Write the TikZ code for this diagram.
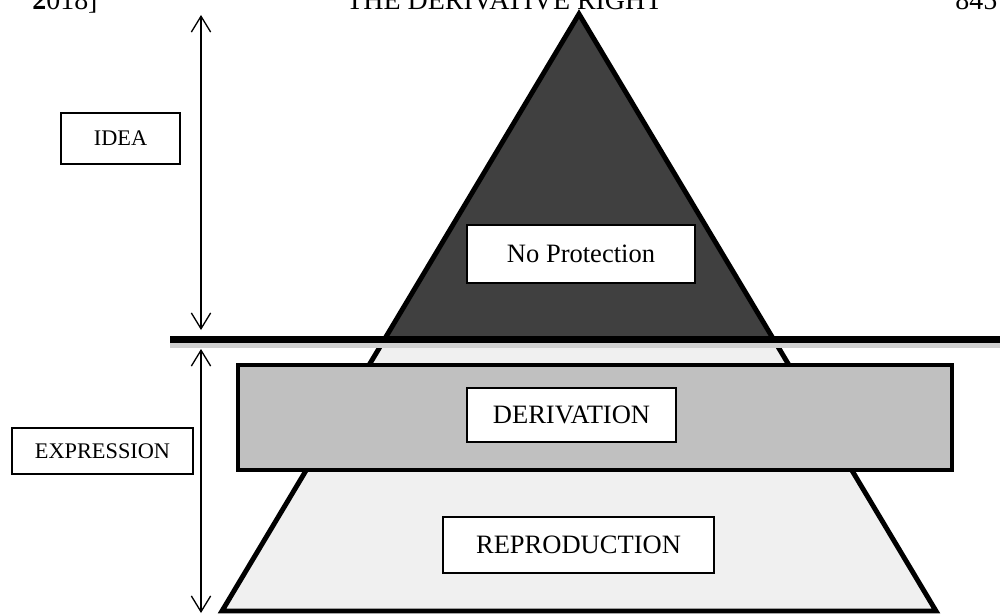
\documentclass[tikz,border=0pt]{standalone}
\usepackage{fontspec}
\setmainfont{Liberation Serif}
\usetikzlibrary{arrows.meta}
\definecolor{darkfill}{HTML}{404040}
\definecolor{lightfill}{HTML}{F0F0F0}
\definecolor{midfill}{HTML}{C0C0C0}
\definecolor{shadowline}{HTML}{D0D0D0}
\tikzset{
  labelbox/.style={draw=black, line width=1pt, fill=white, inner sep=0pt,
    font=\fontsize{15.1}{18}\selectfont},
  sidebox/.style={draw=black, line width=1pt, fill=white, inner sep=0pt,
    font=\fontsize{12.7}{15}\selectfont},
  headtext/.style={inner sep=0pt, anchor=base west, font=\fontsize{15.9}{19}\selectfont},
  span/.style={line width=0.75pt, {Straight Barb[length=9pt,width=11pt]}-{Straight Barb[length=9pt,width=11pt]}},
  outline/.style={draw=black, line width=2.8pt, line join=miter}
}
\begin{document}
\begin{tikzpicture}[x=0.02cm, y=-0.02cm]
\clip (0,0) rectangle (1000,615);
\fill[white] (0,0) rectangle (1000,615);
% running head (cut at top, as in the reference)
\node[headtext] (hleft) at (32,10) {\textbf{2}018]};
\node[headtext] (hmid) at (346,10) {THE DERIVATIVE RIGHT};
\node[headtext] (hright) at (955,10) {845};
% pyramid
\coordinate (apex) at (579,14);
\coordinate (bl) at (222,611);
\coordinate (br) at (936,611);
\fill[lightfill] (apex) -- (bl) -- (br) -- cycle;
\begin{scope}
  \clip (0,0) rectangle (1000,340);
  \fill[darkfill] (apex) -- (bl) -- (br) -- cycle;
\end{scope}
\draw[outline] (apex) -- (bl) -- (br) -- cycle;
% dividing line
\fill[shadowline] (170,343) rectangle (1000,348);
\fill[black] (170,336) rectangle (1000,343);
% derivation band
\draw[fill=midfill, line width=2.5pt] (238,365) rectangle (952,470);
% labels
\node[sidebox, minimum width=2.38cm, minimum height=1.02cm] (idea) at (120.5,138.5) {IDEA};
\node[sidebox, minimum width=3.62cm, minimum height=0.92cm] (expr) at (102.5,451) {EXPRESSION};
\node[labelbox, minimum width=4.56cm, minimum height=1.16cm] (noprot) at (581,254) {No Protection};
\node[labelbox, minimum width=4.18cm, minimum height=1.08cm] (deriv) at (571.5,415) {DERIVATION};
\node[labelbox, minimum width=5.42cm, minimum height=1.12cm] (repro) at (578.5,545) {REPRODUCTION};
% spans
\coordinate (ideaTop) at (201,15);
\coordinate (ideaBot) at (201,330);
\coordinate (exprTop) at (201,349);
\coordinate (exprBot) at (201,613);
\draw[span] (ideaTop) -- (ideaBot);
\draw[span] (exprTop) -- (exprBot);
\end{tikzpicture}
\end{document}
